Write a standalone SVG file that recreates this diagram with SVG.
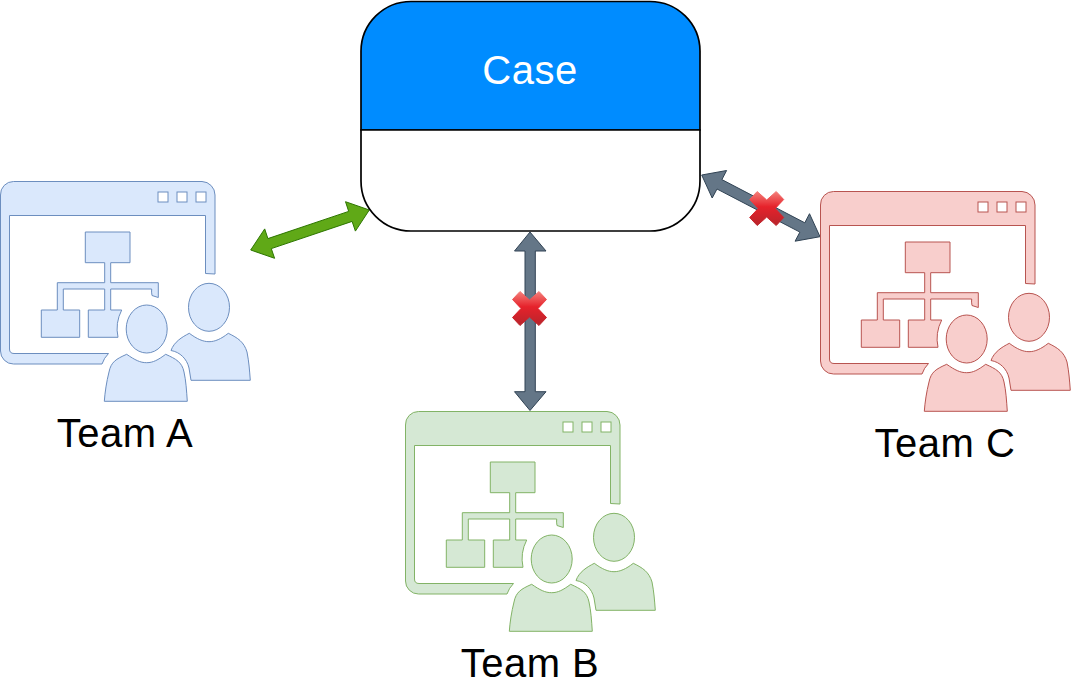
<svg xmlns="http://www.w3.org/2000/svg" xmlns:xlink="http://www.w3.org/1999/xlink" width="1071" height="685" viewBox="0 0 1071 685">
<style>
text{font-family:"Liberation Sans",Arial,sans-serif;font-size:40px;text-anchor:middle;fill:#000;letter-spacing:.5px}
.a{fill:#dae8fc;stroke:#6c8ebf;stroke-width:1}
.b{fill:#d5e8d4;stroke:#82b366;stroke-width:1}
.c{fill:#f8cecc;stroke:#b85450;stroke-width:1}
.grey{fill:#647687;stroke:#314354;stroke-width:1}
.green{fill:#60a917;stroke:#2d7600;stroke-width:1}
.lane{stroke:#000;stroke-width:1.700}
</style>
<defs>
<linearGradient id="xg" x1="0" y1="0" x2="0" y2="1">
<stop offset="0" stop-color="#f4807a"/><stop offset="0.45" stop-color="#e6222b"/><stop offset="1" stop-color="#b8242b"/>
</linearGradient>
<polygon id="cross" fill="url(#xg)" stroke="url(#xg)" stroke-width="1" stroke-linejoin="round" points="-9.5,-17 0,-8.5 9.5,-17 17,-9 8.5,0 17,9 9.5,17 0,8.5 -9.5,17 -17,9 -8.5,0 -17,-9"/>
<g id="team">
<path d="M215 274V195A13.500 13.500 0 0 0 202 181.500H13.500A13 13 0 0 0 .5 195V351A13 13 0 0 0 13.500 364H102Q104 358 108.500 353.500H14Q9.500 353.500 9.500 349V215.500H205.500V273.500Z"/>
<rect x="158" y="192" width="10" height="10" fill="#fff"/>
<rect x="177" y="192" width="10" height="10" fill="#fff"/>
<rect x="196" y="192" width="10" height="10" fill="#fff"/>
<path d="M57.300 310V282.700H104.700V262.700H85.300V232H130V262.700H110.700V282.700H158.300V297.500L152 295.500Q151.300 292 151.700 289H110.700V310H121.700Q115 323 118 337.300H88.300V310H104.700V289H63.300V310H79.700V337.300H41.300V310Z"/>
<ellipse cx="146.700" cy="329" rx="20.500" ry="24"/>
<path d="M104.300 401.300H187.300C186.500 390 186 381 184 372C182 362 176 359 165.700 354.300C158 360 153 362.700 146.700 362.700C140 362.700 135 360 126.700 354.300C116 359 111 362 109 372C106.500 382 105 392 104.300 401.300Z"/>
<ellipse cx="209" cy="307.300" rx="20.500" ry="24"/>
<path d="M191 380.300H250.300C249.500 370 249 362 247 352C244 342 238 338 228.300 333.300C221 339 215 341.700 209 341.700C203 341.700 197 339 189.300 333.300C182 337 174 342 171 350.500C180 352 187 359 189 368Z"/>
</g>
</defs>
<g id="connectors">
<polygon class="green" points="250.700,250 264.700,228.900 267.900,238.600 348.700,211.400 345.500,201.700 369.300,210 355.400,231.100 352.100,221.400 271.300,248.600 274.600,258.300"/>
<polygon class="grey" points="530,232 546,251 535.300,251 535.300,391.700 546,391.700 530,410.500 514.500,391.700 525,391.700 525,251 514.500,251"/>
<polygon class="grey" points="701.700,175 726.600,170.500 721.900,179.600 804.800,222.800 809.500,213.700 820,236.700 795.100,241.200 799.900,232.100 717,189 712.200,198"/>
</g>
<g id="case">
<path class="lane" d="M361 130V51A50 50 0 0 1 411 1.500H650A50 50 0 0 1 700 51V130Z" fill="#008cff"/>
<path class="lane" d="M361 130H700V181A50 50 0 0 1 650 231H411A50 50 0 0 1 361 181Z" fill="#fff"/>
<text x="530" y="84" style="fill:#fff">Case</text>
</g>
<g id="team-a"><use href="#team" class="a"/><text x="125" y="447">Team A</text></g>
<g id="team-b"><use href="#team" class="b" transform="translate(405 230)"/><text x="530" y="677">Team B</text></g>
<g id="team-c"><use href="#team" class="c" transform="translate(820 10)"/><text x="945" y="457">Team C</text></g>
<g id="blocked-b"><use href="#cross" transform="translate(529.500 308.500)"/></g>
<g id="blocked-c"><use href="#cross" transform="translate(766.700 208.500)"/></g>
</svg>
